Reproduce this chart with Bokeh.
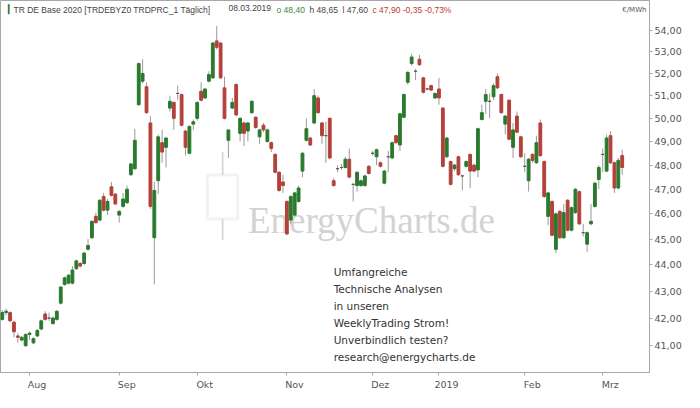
from bokeh.plotting import figure
from bokeh.models import (Range1d, FixedTicker, CustomJSTickFormatter, Label,
                          BoxAnnotation, ColumnDataSource)
from bokeh.embed import file_html
from bokeh.resources import INLINE

# Daily OHLC, TR DE Base 2020, 23.07.2018 - 08.03.2019 (trading days)
opens = [41.95, 42.2, 42.2, 41.85, 41.35, 41.2, 41.0, 41.4, 41.1, 41.35,
         41.6, 42.15, 42.0, 41.8, 41.95, 42.55, 43.25, 43.3, 43.3, 43.85,
         44.05, 44.05, 44.6, 45.05, 45.9, 45.75, 46.7, 46.15, 47.1, 46.8,
         45.95, 46.3, 46.45, 47.6, 47.85, 50.6, 51.65, 51.4, 49.8, 45.05,
         47.35, 48.95, 48.75, 50.45, 50.7, 51.1, 51.05, 49.45, 48.5, 49.75,
         50.0, 51.2, 50.9, 51.65, 51.8, 53.5, 53.4, 51.35, 49.05, 50.45,
         51.5, 49.35, 49.8, 49.45, 50.25, 50.05, 49.2, 49.7, 49.0, 48.95,
         48.45, 47.7, 47.3, 46.5, 45.75, 45.95, 46.5, 47.75, 49.05, 49.15,
         49.8, 50.9, 49.8, 49.25, 50.0, 47.35, 47.85, 47.9, 47.9, 48.25,
         47.2, 47.15, 47.15, 47.15, 47.95, 48.5, 48.35, 48.1, 47.25, 48.35,
         48.3, 49.25, 48.85, 50.05, 51.6, 52.45, 52.1, 52.65, 51.8, 51.3,
         51.45, 50.9, 51.3, 50.45, 48.35, 48.15, 47.85, 48.35, 47.55, 47.95,
         48.45, 48.0, 47.8, 49.95, 50.75, 50.75, 50.95, 51.85, 51.05, 49.75,
         50.8, 48.75, 50.1, 49.2, 47.95, 47.35, 48.45, 48.1, 49.8, 48.15,
         45.9, 46.5, 44.6, 46.1, 45.05, 46.55, 45.35, 46.05, 46.9, 45.25,
         44.8, 45.6, 46.3, 47.4, 48.45, 47.75, 49.25, 48.1, 47.05, 48.4]
highs = [42.3, 42.35, 42.25, 41.9, 41.45, 41.35, 41.45, 41.5, 41.3, 41.6,
         41.95, 42.25, 42.2, 42.05, 42.3, 43.2, 43.55, 43.65, 43.95, 44.2,
         44.1, 44.5, 45.0, 45.75, 46.05, 46.6, 46.85, 46.6, 47.3, 46.85,
         46.15, 46.85, 47.15, 48.1, 49.55, 52.5, 52.65, 51.6, 50.1, 47.3,
         49.3, 49.5, 49.2, 51.0, 50.75, 51.45, 51.1, 49.5, 49.7, 49.95,
         50.75, 51.6, 51.35, 52.1, 53.45, 54.2, 53.45, 51.85, 49.5, 50.9,
         51.55, 50.05, 49.85, 49.85, 50.8, 50.1, 49.55, 49.8, 49.55, 49.0,
         48.5, 47.75, 47.6, 46.55, 46.75, 46.9, 47.15, 48.55, 50.0, 49.2,
         51.3, 51.0, 49.85, 49.85, 50.05, 47.45, 48.0, 48.05, 48.35, 48.7,
         47.25, 47.75, 47.4, 47.6, 48.0, 48.6, 48.7, 48.15, 47.8, 48.6,
         49.0, 49.3, 50.25, 51.1, 52.1, 52.9, 52.2, 52.85, 51.85, 51.35,
         51.5, 51.15, 51.8, 50.5, 49.2, 48.2, 48.05, 48.4, 47.6, 48.2,
         48.5, 48.05, 49.6, 50.6, 51.3, 51.1, 51.55, 52.0, 51.1, 50.15,
         50.85, 49.8, 50.3, 49.25, 48.5, 48.3, 48.5, 49.25, 49.95, 48.2,
         46.9, 46.55, 46.05, 46.15, 46.4, 46.6, 46.3, 47.05, 46.95, 45.6,
         45.3, 46.4, 47.3, 48.0, 48.7, 49.3, 49.45, 48.15, 48.3, 48.65]
lows = [41.9, 42.1, 41.85, 41.3, 41.1, 41.15, 40.95, 41.2, 41.05, 41.3,
        41.55, 41.9, 41.9, 41.75, 41.9, 42.5, 43.2, 43.25, 43.25, 43.8,
        43.9, 44.0, 44.55, 45.0, 45.6, 45.7, 46.1, 45.95, 46.7, 46.35,
        45.65, 46.25, 46.4, 47.55, 47.8, 50.55, 51.55, 50.2, 46.2, 43.25,
        46.8, 48.1, 47.9, 50.3, 49.5, 50.8, 49.65, 48.4, 48.45, 49.5,
        49.9, 50.75, 50.85, 51.6, 51.75, 53.1, 51.75, 49.95, 48.3, 50.4,
        50.1, 49.0, 48.8, 49.0, 50.2, 49.55, 48.9, 49.4, 48.95, 48.55,
        47.65, 46.9, 46.85, 45.15, 45.6, 45.9, 46.45, 47.5, 49.0, 48.8,
        49.75, 50.2, 48.9, 48.1, 48.25, 47.1, 47.7, 47.8, 47.85, 47.45,
        46.5, 46.9, 47.1, 47.1, 47.6, 48.4, 48.0, 47.9, 47.2, 47.7,
        48.25, 48.9, 48.6, 50.0, 51.5, 52.35, 51.7, 52.35, 51.1, 51.25,
        51.2, 50.85, 50.6, 47.9, 48.3, 47.15, 47.75, 47.55, 46.95, 47.9,
        47.05, 47.7, 47.5, 49.9, 50.2, 50.0, 50.8, 51.3, 50.2, 49.3,
        49.05, 48.3, 49.35, 48.3, 47.7, 46.9, 48.1, 48.05, 48.35, 46.65,
        45.55, 45.1, 44.45, 45.0, 45.0, 45.3, 45.3, 46.0, 45.55, 45.1,
        44.5, 45.55, 46.25, 47.0, 47.7, 47.7, 48.05, 46.85, 47.0, 47.6]
closes = [42.2, 42.25, 41.9, 41.5, 41.3, 41.3, 41.4, 41.45, 41.25, 41.55,
          41.9, 41.95, 42.0, 42.0, 42.25, 43.15, 43.5, 43.6, 43.8, 44.15,
          43.95, 44.45, 44.75, 45.7, 45.65, 46.55, 46.15, 46.5, 46.75, 46.4,
          46.1, 46.6, 47.0, 48.05, 49.05, 52.45, 52.0, 50.25, 46.3, 46.95,
          49.2, 48.55, 49.15, 50.75, 50.0, 51.1, 49.7, 48.75, 49.65, 49.85,
          50.7, 50.8, 51.3, 51.95, 53.4, 53.2, 51.8, 50.0, 49.5, 50.7,
          50.15, 50.0, 49.35, 49.8, 50.75, 49.6, 49.5, 49.5, 49.5, 48.7,
          47.7, 46.95, 47.15, 45.2, 46.7, 46.85, 47.05, 48.5, 49.55, 48.85,
          51.0, 50.25, 49.25, 49.25, 48.3, 47.15, 47.85, 47.9, 48.25, 47.5,
          47.2, 47.7, 47.35, 47.55, 47.65, 48.5, 48.65, 47.95, 47.75, 48.35,
          48.95, 48.95, 50.2, 51.05, 52.05, 52.75, 52.1, 52.4, 51.15, 51.3,
          51.25, 51.1, 50.9, 47.95, 49.15, 47.2, 48.0, 47.6, 47.55, 48.15,
          47.75, 47.75, 49.55, 50.25, 51.05, 50.75, 51.45, 51.35, 50.25, 50.1,
          49.1, 49.5, 49.4, 48.35, 47.95, 48.25, 48.2, 48.95, 48.4, 46.7,
          46.85, 45.15, 46.0, 45.05, 46.05, 45.35, 46.25, 47.0, 45.6, 45.25,
          45.25, 45.7, 47.25, 47.9, 48.45, 49.15, 48.1, 47.05, 48.2, 47.9]

month_index = [7, 30, 50, 73, 95, 112, 134, 154]
month_labels = ["Aug", "Sep", "Okt", "Nov", "Dez", "2019", "Feb", "Mrz"]
price_ticks = [41, 42, 43, 44, 45, 46, 47, 48, 49, 50, 51, 52, 53, 54]

UP = "#2a7a2e"
DOWN = "#b3403a"
FLAT = "#555555"

idx = list(range(len(opens)))
colors = [UP if c > o else (DOWN if c < o else FLAT) for o, c in zip(opens, closes)]
src = ColumnDataSource(dict(x=idx, open=opens, high=highs, low=lows, close=closes,
                            top=[max(o, c) for o, c in zip(opens, closes)],
                            bottom=[min(o, c) for o, c in zip(opens, closes)],
                            color=colors))

p = figure(width=684, height=392, y_axis_type="log", output_backend="svg",
           toolbar_location=None, x_axis_location="below", y_axis_location="right",
           x_range=Range1d(-0.45, 166.0), y_range=Range1d(40.05, 55.42),
           min_border_left=0, min_border_top=0, min_border_right=0, min_border_bottom=0)
p.background_fill_color = "white"
p.border_fill_color = "white"
p.outline_line_color = "#a8a8a8"
p.xgrid.visible = False
p.ygrid.visible = False

# watermark
p.add_layout(BoxAnnotation(left=56.3, right=56.75, bottom=44.96, top=48.56,
                           fill_color="#d6d6d6", fill_alpha=1, line_alpha=0, level="underlay"))
p.add_layout(BoxAnnotation(left=52.6, right=60.4, bottom=45.79, top=47.59,
                           fill_color="white", fill_alpha=1, line_color="#d6d6d6",
                           line_width=3, level="underlay"))
p.add_layout(Label(x=63.0, y=45.75, text="EnergyCharts.de", text_font="Liberation Serif",
                   text_font_size="37px", text_color="#d3d3d3", text_baseline="alphabetic",
                   level="underlay"))

p.segment(x0="x", y0="low", x1="x", y1="high", source=src, line_color="#9a9a9a", line_width=1)
p.vbar(x="x", top="top", bottom="bottom", width=0.72, source=src,
       fill_color="color", line_color="color", line_width=1)

# axes
nbsp = "\u00a0" * 5
p.xaxis.ticker = FixedTicker(ticks=month_index)
p.xaxis.major_label_overrides = {i: nbsp + l for i, l in zip(month_index, month_labels)}
p.xaxis.minor_tick_line_color = None
p.xaxis.major_tick_out = 3
p.xaxis.major_tick_in = 0
p.xaxis.axis_line_color = "#a8a8a8"
p.xaxis.major_tick_line_color = "#a8a8a8"
p.xaxis.major_label_text_font = "DejaVu Sans"
p.xaxis.major_label_text_font_size = "9.5px"
p.xaxis.major_label_text_color = "#555555"
p.xaxis.major_label_standoff = 3

p.yaxis.ticker = FixedTicker(ticks=price_ticks)
p.yaxis.formatter = CustomJSTickFormatter(code="return tick.toFixed(2).replace('.', ',');")
p.yaxis.minor_tick_line_color = None
p.yaxis.major_tick_out = 3
p.yaxis.major_tick_in = 0
p.yaxis.axis_line_color = "#a8a8a8"
p.yaxis.major_tick_line_color = "#a8a8a8"
p.yaxis.major_label_text_font = "DejaVu Sans"
p.yaxis.major_label_text_font_size = "9.5px"
p.yaxis.major_label_text_color = "#555555"
p.yaxis.major_label_standoff = 2

# header
y_top = p.y_range.end
x_left = p.x_range.start
hdr_font = "Liberation Sans"
hdr_size = "8.5px"
header_parts = [
    (13, "TR DE Base 2020 [TRDEBYZ0 TRDPRC_1 T\u00e4glich]", "#444444"),
    (228, "08.03.2019", "#444444"),
    (276, "o 48,40", "#3a8a3a"),
    (309, "h 48,65", "#444444"),
    (342, "l 47,60", "#444444"),
    (372, "c 47,90  -0,35  -0,73%", "#c0392b"),
]
for dx, txt, col in header_parts:
    p.add_layout(Label(x=x_left, y=y_top, x_offset=dx, y_offset=-4, text=txt,
                       text_font=hdr_font, text_font_size=hdr_size, text_color=col,
                       text_baseline="top", text_align="left"))
# small candle icon in header
p.add_layout(Label(x=x_left, y=y_top, x_offset=4, y_offset=-2, text="\u2759",
                   text_font="DejaVu Sans", text_font_size="10px", text_color=UP,
                   text_baseline="top"))

# unit label (kept inside the frame, top-right corner)
p.add_layout(Label(x=p.x_range.end, y=y_top, x_offset=-3, y_offset=-5, text="\u20ac/MWh",
                   text_font="DejaVu Sans", text_font_size="7px", text_color="#555555",
                   text_baseline="top", text_align="right"))

promo = ("Umfangreiche\nTechnische Analysen\nin unseren\nWeeklyTrading Strom!\n"
         "Unverbindlich testen?\nresearch@energycharts.de")
p.add_layout(Label(x=85.0, y=43.96, text=promo, text_font="DejaVu Sans",
                   text_font_size="10.5px", text_color="#333333", text_baseline="top",
                   text_align="left", text_line_height=1.42))

open("out.html", "w").write(file_html(p, INLINE))
